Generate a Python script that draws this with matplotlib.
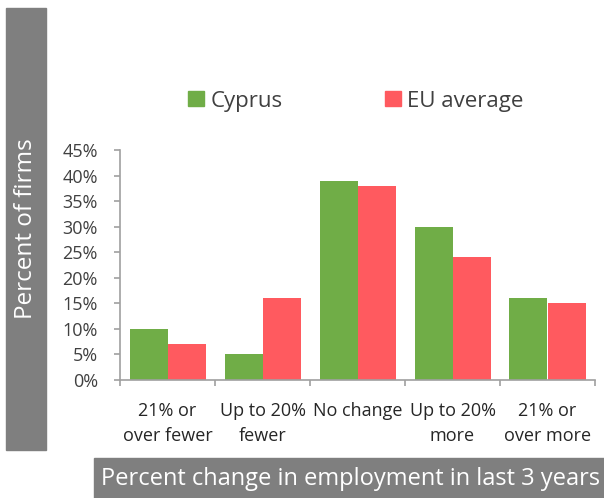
import numpy as np
import matplotlib
matplotlib.use('Agg')
import matplotlib.pyplot as plt
from matplotlib.patches import Rectangle, Patch

plt.rcParams['font.family'] = ['Open Sans', 'DejaVu Sans']

categories = ['21% or\nover fewer', 'Up to 20%\nfewer', 'No change', 'Up to 20%\nmore', '21% or\nover more']
cyprus = [10, 5, 39, 30, 16]
eu_average = [7, 16, 38, 24, 15]
yticks = [0, 5, 10, 15, 20, 25, 30, 35, 40, 45]

green = '#70AD47'
red = '#FF5A5F'
grey = '#7F7F7F'
spine = '#A0A0A0'

W, H = 604, 498
fig = plt.figure(figsize=(W / 100, H / 100), dpi=100)
ax = fig.add_axes([120 / W, 1 - 380 / H, (595 - 120) / W, (380 - 150) / H])

x = np.arange(len(categories))
bw = 0.4
ax.bar(x - bw / 2, cyprus, bw, color=green)
ax.bar(x + bw / 2, eu_average, bw, color=red)

ax.set_xlim(-0.5, len(categories) - 0.5)
ax.set_ylim(0, 45)
ax.set_yticks(yticks)
ax.set_yticklabels([f'{v}%' for v in yticks])

ax.set_xticks(np.arange(len(categories) + 1) - 0.5)
ax.set_xticklabels([])
ax.set_xticks(x, minor=True)
ax.set_xticklabels(categories, minor=True)
for lbl in ax.get_xticklabels(minor=True):
    lbl.set_linespacing(1.45)

for s in ['top', 'right']:
    ax.spines[s].set_visible(False)
for s in ['left', 'bottom']:
    ax.spines[s].set_color(spine)
    ax.spines[s].set_linewidth(1.2)

ax.tick_params(axis='y', which='major', length=4, width=1.2, color=spine,
               labelsize=13, labelcolor='#404040', pad=12)
ax.tick_params(axis='x', which='major', length=4, width=1.2, color=spine)
ax.tick_params(axis='x', which='minor', length=0, labelsize=13,
               labelcolor='#262626', pad=16)

# grey axis title boxes
fig.patches.append(Rectangle((6 / W, 1 - 450 / H), 40 / W, 442 / H,
                             transform=fig.transFigure, color=grey, zorder=0))
fig.text(26 / W, 1 - 229 / H, 'Percent of firms', rotation=90, color='white',
         fontsize=17.5, ha='center', va='center')
fig.patches.append(Rectangle((94 / W, 0), (W - 94) / W, 40 / H,
                             transform=fig.transFigure, color=grey, zorder=0))
fig.text(351 / W, 19 / H, 'Percent change in employment in last 3 years',
         color='white', fontsize=17, ha='center', va='center')

handles = [Patch(color=green, label='Cyprus'), Patch(color=red, label='EU average')]
fig.legend(handles=handles, loc='center', bbox_to_anchor=(356 / W, 1 - 101 / H),
           ncol=2, frameon=False, fontsize=16, handlelength=0.7, handleheight=0.7,
           handletextpad=0.3, columnspacing=4.6, labelcolor='#404040')

fig.savefig('out.png', dpi=100)
